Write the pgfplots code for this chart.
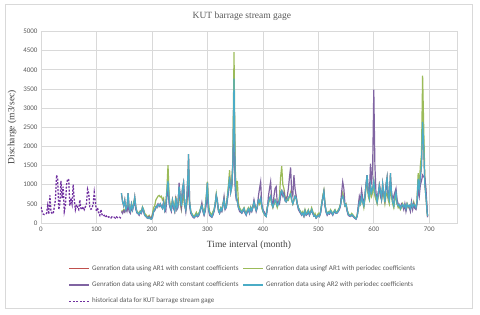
\documentclass[border=0pt]{standalone}
\usepackage{fontspec}
\setmainfont{Liberation Serif}
\newfontfamily\carlito{Carlito}
\usepackage{pgfplots}
\usepackage{pgfplotstable}
\pgfplotsset{compat=1.18}
\definecolor{cRed}{HTML}{C0504D}
\definecolor{cGreen}{HTML}{9BBB59}
\definecolor{cPurple}{HTML}{8064A2}
\definecolor{cCyan}{HTML}{4BACC6}
\definecolor{cHist}{HTML}{7030A0}
\definecolor{txt}{HTML}{595959}
\definecolor{lab}{HTML}{404040}
\definecolor{grd}{HTML}{D9D9D9}

\pgfplotstableread{
m v
0 420
2 300
4 230
6 220
8 240
10 250
12 450
14 230
16 720
18 300
20 250
22 240
24 420
26 600
28 1250
30 1150
32 350
34 500
36 1100
38 650
40 950
42 300
44 450
46 1000
48 1150
50 1130
52 450
54 650
56 500
58 1000
60 600
62 350
64 480
66 400
68 350
70 600
72 380
74 350
76 420
78 350
80 420
82 500
84 880
86 780
88 400
90 360
92 380
94 500
96 800
98 550
100 300
102 400
104 250
106 200
108 350
110 220
112 180
114 200
116 150
118 180
120 140
122 160
124 150
126 130
128 160
130 140
132 150
134 130
136 160
138 140
140 130
142 150
144 120
}\hist

\pgfplotstableread{
m g p c
145 320 300 780
147 300 250 560
149 350 320 450
151 300 280 600
153 420 380 350
155 380 300 420
157 500 450 780
159 350 300 400
161 300 250 320
163 450 380 500
165 380 330 350
167 550 480 480
169 600 520 680
171 400 350 420
173 300 260 280
175 280 240 250
177 250 200 230
179 320 280 300
181 300 250 270
183 420 380 400
185 350 300 330
187 250 200 200
189 220 180 180
191 180 140 140
193 160 150 120
195 200 170 150
197 150 130 110
199 130 120 100
201 250 200 150
203 400 300 300
205 450 320 350
207 600 400 420
209 650 450 400
211 700 500 480
213 720 430 450
215 680 480 500
217 700 420 430
219 600 400 380
221 650 550 520
223 400 350 330
225 500 300 450
227 900 700 800
229 1510 900 1100
231 700 500 600
233 450 380 420
235 400 300 350
237 600 550 600
239 500 380 450
241 350 300 320
243 700 600 650
245 400 350 380
247 450 400 500
249 800 1050 950
251 500 600 700
253 350 400 450
255 600 800 900
257 700 1000 1050
259 450 500 500
261 350 300 350
263 500 600 700
265 900 800 1300
266 1000 900 1800
268 500 450 550
270 300 250 300
272 250 200 220
274 200 150 180
276 180 130 150
278 220 170 170
280 280 200 230
282 200 160 180
284 250 180 200
286 300 250 280
288 400 350 380
290 500 520 450
292 350 300 330
294 250 200 230
296 400 300 350
298 700 500 650
300 1080 700 1050
302 500 350 400
304 300 200 250
306 250 170 200
308 200 150 160
310 300 200 250
312 350 300 320
314 500 450 500
316 750 700 730
318 500 600 550
320 350 300 330
322 300 250 260
324 400 350 380
326 350 300 320
328 500 450 480
330 650 680 600
332 400 350 380
334 450 400 420
336 700 600 650
338 1000 800 900
340 1380 1100 1200
342 900 900 800
344 1000 1000 950
346 1700 1500 1600
348 4460 2200 3770
349 3000 1800 2500
350 1500 900 1200
352 800 600 700
354 1100 600 560
356 500 400 400
358 400 300 350
360 350 280 320
362 300 250 270
364 350 300 330
366 400 350 380
368 300 250 280
370 250 200 220
372 350 300 320
374 400 330 370
376 300 250 280
378 420 380 400
380 350 300 320
382 450 400 420
384 500 600 550
386 400 450 420
388 350 300 330
390 450 400 430
392 600 700 600
394 500 900 550
396 600 1075 650
398 400 500 450
400 300 350 320
402 250 300 250
404 200 250 200
406 250 200 170
408 400 350 400
410 500 700 550
412 600 900 650
414 700 1075 700
416 500 600 500
418 400 450 420
420 500 700 500
422 600 900 600
424 500 950 550
426 400 500 450
428 500 550 500
430 700 500 600
432 1200 700 800
434 1485 800 850
436 1000 700 750
438 900 800 700
440 700 600 600
442 600 650 550
444 650 700 600
446 600 900 650
448 700 1200 700
450 800 1450 750
452 600 800 600
454 500 700 500
456 600 1250 600
458 650 900 700
460 700 700 650
462 500 500 500
464 400 350 400
466 350 300 330
468 300 250 280
470 250 200 220
472 300 250 260
474 200 180 180
476 350 300 320
478 250 200 220
480 280 230 250
482 350 300 320
484 250 200 220
486 300 280 260
488 400 330 350
490 300 250 270
492 200 180 180
494 250 200 200
496 150 130 130
498 200 170 170
500 250 200 200
502 200 180 170
504 300 250 280
506 500 450 480
508 700 650 650
510 850 800 820
512 500 450 480
514 300 280 300
516 250 200 230
518 300 250 280
520 280 230 250
522 350 300 320
524 300 250 280
526 250 200 220
528 300 270 280
530 350 300 330
532 280 250 260
534 300 260 270
536 350 300 320
538 400 350 380
540 500 450 480
542 700 800 650
544 800 1075 700
546 600 900 600
548 450 500 450
550 500 450 480
552 350 300 330
554 250 200 230
556 220 180 200
558 200 170 180
560 250 200 220
562 220 180 200
564 180 150 160
566 150 120 130
568 120 100 110
570 200 180 180
572 400 450 350
574 600 700 550
576 500 600 500
578 700 860 690
580 550 650 550
582 400 500 450
584 600 700 700
586 900 1000 1000
588 1100 1250 1250
590 700 800 800
592 600 700 650
594 900 1550 1000
596 700 1000 800
598 800 1500 900
600 1000 3480 1100
602 700 1500 800
604 600 770 700
606 500 600 550
608 700 800 750
610 900 900 1000
612 800 700 850
614 600 600 650
616 800 900 1030
618 700 800 800
620 500 600 550
622 700 900 1000
624 800 1000 1200
626 600 700 700
628 500 800 600
630 900 1100 1300
632 700 800 750
634 500 600 550
636 400 700 450
638 600 800 700
640 700 900 800
642 500 600 500
644 400 500 450
646 450 450 480
648 350 400 380
650 400 500 450
652 500 450 480
654 400 350 420
656 450 500 480
658 350 300 370
660 500 450 500
662 400 450 430
664 450 400 460
666 350 300 380
668 500 550 520
670 400 350 420
672 550 500 480
674 450 380 460
676 400 350 400
678 600 500 550
680 1300 900 1150
682 1000 700 900
684 1500 1000 1200
686 1800 1100 1500
688 3850 1250 2640
690 2500 1200 2000
692 1200 1200 1000
694 800 900 700
696 300 400 300
697 180 150 180
}\gen

\begin{document}
\begin{tikzpicture}
\useasboundingbox (0,0) rectangle (480pt,315pt);
\draw[grd, line width=0.75pt] (5pt,7pt) rectangle (472pt,311pt);
\begin{axis}[
  at={(41pt,92pt)}, anchor=south west,
  scale only axis, width=416pt, height=191.5pt,
  xmin=0, xmax=750, ymin=0, ymax=5000,
  xtick={0,100,...,700}, ytick={0,500,...,5000},
  grid=major, grid style={grd, line width=0.6pt},
  axis line style={grd, line width=0.6pt},
  tick style={draw=none},
  /pgf/number format/assume math mode=true,
  /pgf/number format/1000 sep={},
  ticklabel style={font=\carlito\fontsize{7}{8}\selectfont, text=txt},
  title={KUT barrage stream gage},
  title style={at={(axis description cs:0.483,1)}, anchor=center, yshift=9.5pt, font=\fontsize{9.5}{11}\selectfont, text=txt},
  xlabel={Time interval (month)},
  xlabel style={at={(axis description cs:0.5,0)}, anchor=center, yshift=-22pt, font=\fontsize{9.5}{11}\selectfont, text=lab},
  ylabel={Discharge (m3/sec)},
  ylabel style={at={(axis description cs:-0.0697,0.5)}, anchor=center, font=\fontsize{9.5}{11}\selectfont, text=lab},
  legend columns=2,
  legend cell align=left,
  legend image code/.code={\draw[#1, line width=1.5pt] (0pt,0pt) -- (20pt,0pt);},
  legend style={at={(axis description cs:0.066,-0.21)}, anchor=north west, draw=none, fill=none, inner sep=0pt,
    font=\carlito\fontsize{7}{8}\selectfont, row sep=6pt,
    /tikz/every even column/.append style={column sep=2pt}},
]
\addplot[color=cRed, line width=1.2pt] table[x=m, y=c] {\gen};
\addlegendentry{\textcolor{txt}{Genration data using AR1 with constant coefficients}}
\addplot[color=cGreen, line width=1.2pt] table[x=m, y=g] {\gen};
\addlegendentry{\textcolor{txt}{Genration data usingf AR1 with periodec coefficients}}
\addplot[color=cPurple, line width=1.2pt] table[x=m, y=p] {\gen};
\addlegendentry{\textcolor{txt}{Genration data using AR2 with constant coefficients}}
\addplot[color=cCyan, line width=1.2pt] table[x=m, y=c] {\gen};
\addlegendentry{\textcolor{txt}{Genration data using AR2 with periodec coefficients}}
\addplot[color=cHist, line width=1.3pt, dash pattern=on 2pt off 1.5pt] table[x=m, y=v] {\hist};
\addlegendentry{\textcolor{txt}{historical data for KUT barrage stream gage}}
\end{axis}
\end{tikzpicture}
\end{document}
